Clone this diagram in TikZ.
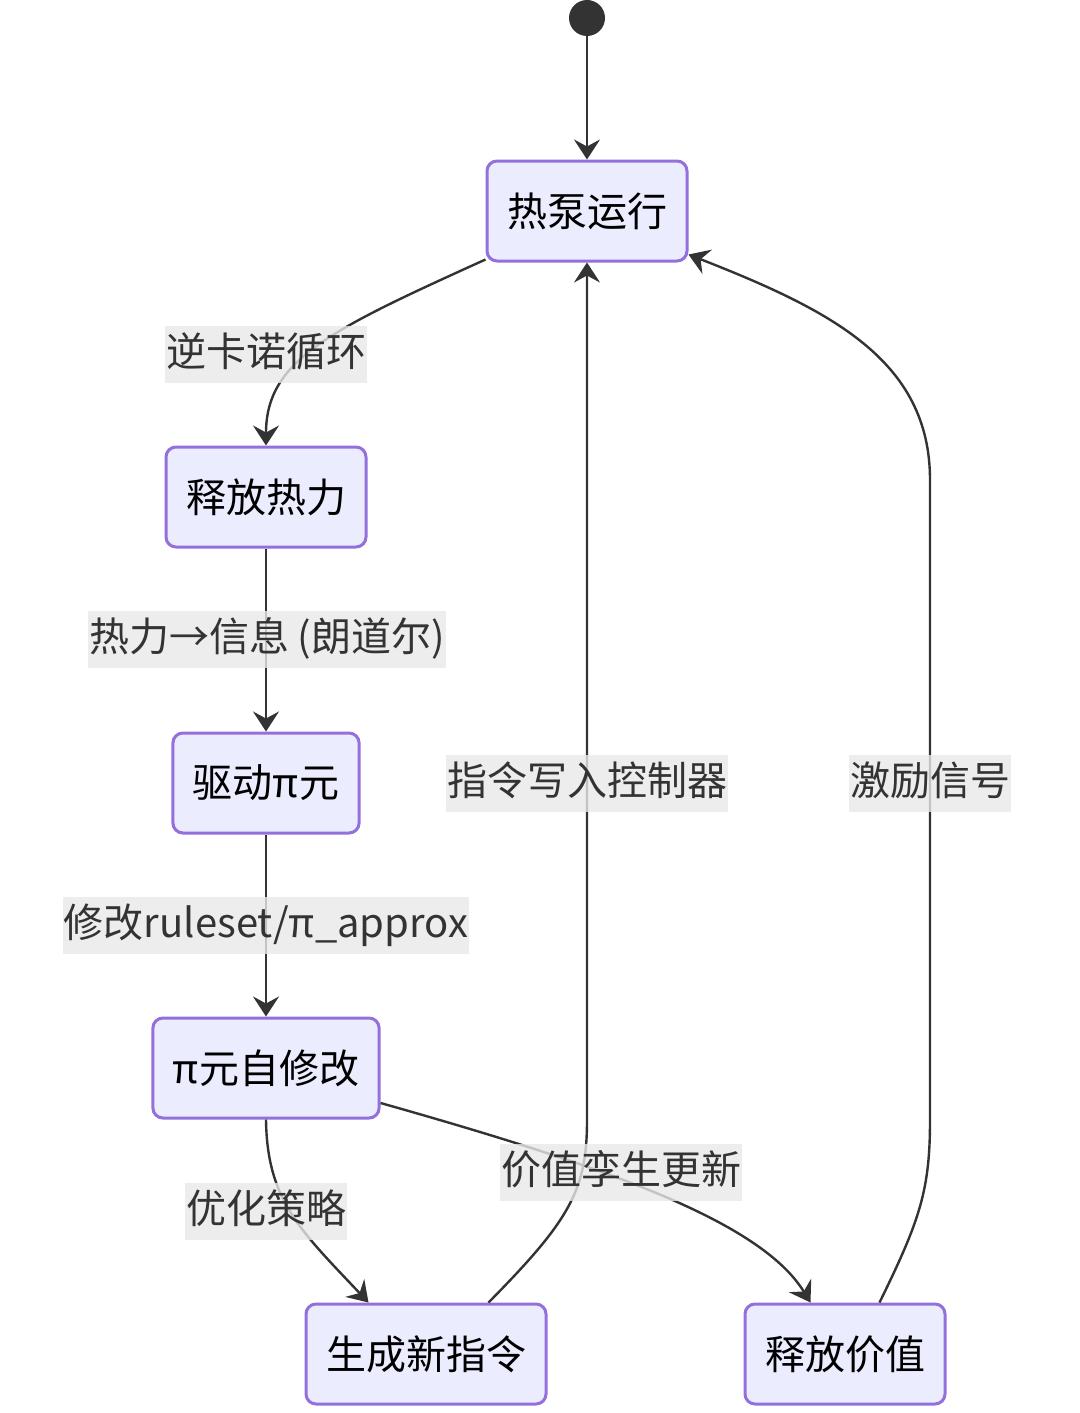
\documentclass[tikz,border=0pt]{standalone}
\usepackage{fontspec}
\setmainfont{Noto Sans CJK SC}
\usetikzlibrary{arrows.meta}
\definecolor{stateFill}{HTML}{ECECFF}
\definecolor{stateLine}{HTML}{9370DB}
\definecolor{edgeLine}{HTML}{333333}
\definecolor{labelFill}{HTML}{E8E8E8}

\begin{document}
\begin{tikzpicture}
[x=0.5pt,y=-0.5pt,
  stateDecorate/.style={shape=rectangle,rounded corners=5pt,draw=stateLine,line width=1.5pt,
    fill=stateFill,minimum height=50pt,inner xsep=10pt,text=black,
    font=\fontsize{20pt}{24pt}\selectfont},
  labelDecorate/.style={fill=labelFill,fill opacity=0.8,text opacity=1,text=edgeLine,
    inner xsep=0.5pt,inner ysep=4.25pt,text height=16pt,text depth=4pt,
    font=\fontsize{20pt}{24pt}\selectfont},
  lineDecorate/.style={-{Stealth[length=10pt,width=13pt,inset=3.5pt]},line width=1.2pt,draw=edgeLine}]
\useasboundingbox (0,0) rectangle (1080,1413);
%% start point
\node (start) at (587,18) [circle,fill=edgeLine,minimum size=18pt,inner sep=0pt] {};
%% states
\foreach \nodename/\x/\y/\txt in {
  pump/587/211/热泵运行, heat/266/497/释放热力, drive/266/783/驱动π元,
  modify/266/1068/π元自修改, cmd/426/1354/生成新指令, value/845/1354/释放价值}
{
  \node (\nodename) at (\x,\y) [stateDecorate] {\txt};
}
%% transitions
\draw[lineDecorate] (start) -- (pump);
\draw[lineDecorate] ([yshift=1.5pt]pump.south west) .. controls (330,330) and (266,360) .. (heat.north);
\draw[lineDecorate] (heat) -- (drive);
\draw[lineDecorate] (drive) -- (modify);
\draw[lineDecorate] (modify.south) .. controls (267,1200) and (300,1230) .. ([xshift=32pt]cmd.north west);
\draw[lineDecorate] ([yshift=-17.5pt]modify.east) .. controls (600,1165) and (760,1220) .. ([xshift=33.5pt]value.north west);
\draw[lineDecorate] ([xshift=-29.5pt]cmd.north east) .. controls (570,1220) and (587,1190) .. (587,1120) -- (pump.south);
\draw[lineDecorate] ([xshift=-33.5pt]value.north east) .. controls (920,1220) and (930,1190) .. (930,1120)
  -- (930,480) .. controls (930,360) and (830,310) .. ([yshift=4pt]pump.south east);
%% transition labels
\node (lCarnot) at (266,354) [labelDecorate] {逆卡诺循环};
\node (lLandauer) at (267,639) [labelDecorate] {热力→信息 (朗道尔)};
\node (lRuleset) at (266,925) [labelDecorate] {修改ruleset/π\_approx};
\node (lPolicy) at (266,1211) [labelDecorate] {优化策略};
\node (lTwin) at (621,1172) [labelDecorate] {价值孪生更新};
\node (lWrite) at (587,783) [labelDecorate] {指令写入控制器};
\node (lSignal) at (930,783) [labelDecorate] {激励信号};
\end{tikzpicture}
\end{document}
